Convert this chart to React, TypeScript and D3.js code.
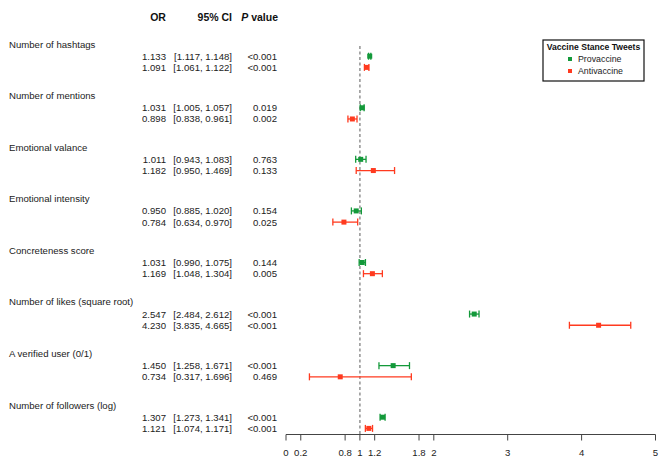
import React from "react";
import * as d3 from "d3";

const groups = [
  "Number of hashtags",
  "Number of mentions",
  "Emotional valance",
  "Emotional intensity",
  "Concreteness score",
  "Number of likes (square root)",
  "A verified user (0/1)",
  "Number of followers (log)",
];
const proOR = [1.133, 1.031, 1.011, 0.95, 1.031, 2.547, 1.45, 1.307];
const proLo = [1.117, 1.005, 0.943, 0.885, 0.99, 2.484, 1.258, 1.273];
const proHi = [1.148, 1.057, 1.083, 1.02, 1.075, 2.612, 1.671, 1.341];
const proP = ["<0.001", "0.019", "0.763", "0.154", "0.144", "<0.001", "<0.001", "<0.001"];
const antiOR = [1.091, 0.898, 1.182, 0.784, 1.169, 4.23, 0.734, 1.121];
const antiLo = [1.061, 0.838, 0.95, 0.634, 1.048, 3.835, 0.317, 1.074];
const antiHi = [1.122, 0.961, 1.469, 0.97, 1.304, 4.665, 1.696, 1.171];
const antiP = ["<0.001", "0.002", "0.133", "0.025", "0.005", "<0.001", "0.469", "<0.001"];
const tickVals = [0, 0.2, 0.8, 1, 1.2, 1.8, 2, 3, 4, 5];
const seriesNames = ["Provaccine", "Antivaccine"];
const colors = ["#13993a", "#ff3a1f"];

const fmt = (v: number) => v.toFixed(3);

export default function App() {
  const W = 666, H = 466;
  const x = d3.scaleLinear().domain([0, 5]).range([286, 655.5]);
  const gy = d3.scaleLinear().domain([0, 7]).range([44, 405]);
  const axisY = 434.5;
  const font = "Liberation Sans, Arial, sans-serif";
  const fs = 9.6;
  const offs = [12.2, 23.4];
  const series = [
    { or: proOR, lo: proLo, hi: proHi, p: proP },
    { or: antiOR, lo: antiLo, hi: antiHi, p: antiP },
  ];
  return (
    <svg width={W} height={H} style={{ position: "absolute", left: 0, top: 0 }} fontFamily={font}>
      <rect width={W} height={H} fill="#fff" />
      <g fontWeight="bold" fontSize={10.5} fill="#111">
        <text x={158} y={20.5} textAnchor="middle">OR</text>
        <text x={232} y={20.5} textAnchor="end">95% CI</text>
        <text x={278} y={20.5} textAnchor="end">
          <tspan fontStyle="italic">P</tspan> value
        </text>
      </g>
      <line x1={x(1)} x2={x(1)} y1={46} y2={axisY} stroke="#999" strokeWidth={1.6} strokeDasharray="3,2.5" />
      {groups.map((g, i) => (
        <g key={g}>
          <text x={9} y={gy(i) + 3.5} fontSize={fs} fill="#222">{g}</text>
          {series.map((s, j) => {
            const cy = gy(i) + offs[j];
            const c = colors[j];
            return (
              <g key={j}>
                <text x={166} y={cy + 3.5} fontSize={fs} fill="#222" textAnchor="end">{fmt(s.or[i])}</text>
                <text x={232} y={cy + 3.5} fontSize={fs} fill="#222" textAnchor="end">
                  [{fmt(s.lo[i])}, {fmt(s.hi[i])}]
                </text>
                <text x={277} y={cy + 3.5} fontSize={fs} fill="#222" textAnchor="end">{s.p[i]}</text>
                <line x1={x(s.lo[i])} x2={x(s.hi[i])} y1={cy} y2={cy} stroke={c} strokeWidth={1.3} />
                <line x1={x(s.lo[i])} x2={x(s.lo[i])} y1={cy - 3.5} y2={cy + 3.5} stroke={c} strokeWidth={1.3} />
                <line x1={x(s.hi[i])} x2={x(s.hi[i])} y1={cy - 3.5} y2={cy + 3.5} stroke={c} strokeWidth={1.3} />
                <rect x={x(s.or[i]) - 2.5} y={cy - 2.5} width={5} height={5} fill={c} />
              </g>
            );
          })}
        </g>
      ))}
      <g>
        <line x1={x(0)} x2={x(5)} y1={axisY} y2={axisY} stroke="#444" strokeWidth={1} />
        {tickVals.map((t) => (
          <g key={t}>
            <line x1={x(t)} x2={x(t)} y1={axisY} y2={axisY + 6} stroke="#444" strokeWidth={1} />
            <text x={x(t)} y={axisY + 21} fontSize={fs} fill="#222" textAnchor="middle">{String(t)}</text>
          </g>
        ))}
      </g>
      <g>
        <rect x={543} y={40} width={101} height={41} fill="#fff" stroke="#111" strokeWidth={1.2} />
        <text x={593.5} y={50} fontSize={8.6} fontWeight="bold" textAnchor="middle" fill="#111">Vaccine Stance Tweets</text>
        {seriesNames.map((n, j) => (
          <g key={n}>
            <rect x={568} y={59 + 12 * j - 2} width={4} height={4} fill={colors[j]} />
            <text x={578} y={59 + 12 * j + 3} fontSize={8.8} fill="#222">{n}</text>
          </g>
        ))}
      </g>
    </svg>
  );
}
